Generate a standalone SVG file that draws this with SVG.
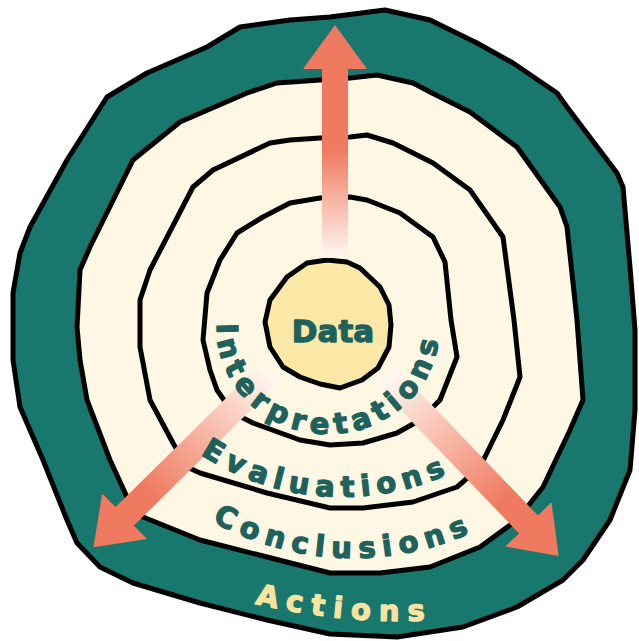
<svg xmlns="http://www.w3.org/2000/svg" width="639" height="641" viewBox="0 0 639 641">
<style>
.ring{stroke:#000;stroke-width:5;stroke-linejoin:round}
.cream{fill:#FEF7E3}
.lbl{font-family:"DejaVu Sans","Liberation Sans",sans-serif;font-weight:bold;font-size:29px;fill:#1E625B;stroke:#1E625B;stroke-width:1.3;stroke-linejoin:round}
.arrow{stroke-width:26;stroke-linecap:butt;fill:none;marker-end:url(#head)}
</style>
<defs>
<marker id="head" markerUnits="userSpaceOnUse" markerWidth="44" markerHeight="64" viewBox="0 0 44 64" refX="1" refY="32" orient="auto">
<path d="M0,0 L44,32 L0,64 Z" fill="#F07A60"/>
</marker>
<linearGradient id="gUp" gradientUnits="userSpaceOnUse" x1="335" y1="258" x2="335" y2="150">
<stop offset="0" stop-color="#FFF8F1"/><stop offset="1" stop-color="#F07A60"/>
</linearGradient>
<linearGradient id="gLeft" gradientUnits="userSpaceOnUse" x1="270" y1="373" x2="150" y2="493">
<stop offset="0" stop-color="#FFF8F1"/><stop offset="1" stop-color="#F07A60"/>
</linearGradient>
<linearGradient id="gRight" gradientUnits="userSpaceOnUse" x1="387" y1="377" x2="505" y2="500">
<stop offset="0" stop-color="#FFF8F1"/><stop offset="1" stop-color="#F07A60"/>
</linearGradient>
<path id="pInt" d="M225.8,288 A111,105 0 1 0 434.1,298.3"/>
<path id="pEval" d="M134.9,391.5 A256,256 0 0 0 526.1,418.8"/>
<path id="pConc" d="M126.1,447.3 A288,288 0 0 0 567,462.7"/>
<path id="pAct" d="M235.8,598.6 A628,628 0 0 0 452.9,618.9"/>
</defs>
<rect width="639" height="641" fill="#FFFFFF"/>
<g id="actions">
<polygon class="ring" fill="#18786D" points="290,20 330,17 385,10 430,20 477,43 513,63 557,93 567,107 617,173 623,187 630,267 635,330 635,410 630,470 610,520 583,560 563,580 517,607 463,627 397,637 330,634 267,620 200,603 133,583 100,567 77,543 67,520 43,460 20,407 13,360 13,293 20,253 30,227 67,160 107,97 147,73 207,47 240,27"/>
</g>
<g id="conclusions">
<polygon class="ring cream" points="180,122 247,93 277,83 320,80 350,78 377,75 413,83 432,93 470,112 517,147 560,207 567,227 577,320 583,400 570,430 543,487 517,520 480,547 430,567 380,573 330,573 267,557 200,540 143,517 127,497 110,460 87,400 80,360 77,327 80,270 90,247 133,160"/>
</g>
<g id="evaluations">
<polygon class="ring cream" points="193,187 213,170 270,143 290,140 320,138 350,137 367,135 393,143 433,163 470,190 503,237 514,320 520,377 503,420 480,467 457,487 413,502 363,508 330,508 267,493 200,473 187,467 173,443 150,400 140,347 140,300 150,270"/>
</g>
<g id="interpretations">
<polygon class="ring cream" points="207,293 220,260 237,233 263,217 290,203 320,198 350,197 367,200 400,213 433,237 445,262 451,320 457,357 440,400 420,420 397,433 363,443 330,445 300,440 253,423 233,413 217,390 210,370 203,340"/>
</g>
<g id="data">
<polygon class="ring" fill="#FBE8A7" points="307,263 327,260 347,262 360,268 380,287 389,305 391,325 389,347 378,368 362,380 340,388 320,384 300,377 283,367 270,347 265,322 270,300 287,277"/>
</g>
<g id="connectors">
<line class="arrow" stroke="url(#gUp)" x1="335" y1="258" x2="335" y2="68"/>
<line class="arrow" stroke="url(#gLeft)" x1="270" y1="373" x2="124" y2="517"/>
<line class="arrow" stroke="url(#gRight)" x1="387" y1="377" x2="529" y2="525"/>
</g>
<g id="labels">
<text id="label-data" class="lbl" x="333" y="342" text-anchor="middle" style="font-size:31px">Data</text>
<text id="label-interpretations" class="lbl" letter-spacing="6" text-anchor="middle"><textPath href="#pInt" startOffset="50%">Interpretations</textPath></text>
<text id="label-evaluations" class="lbl" letter-spacing="6.7" text-anchor="middle"><textPath href="#pEval" startOffset="50%">Evaluations</textPath></text>
<text id="label-conclusions" class="lbl" letter-spacing="7.2" text-anchor="middle"><textPath href="#pConc" startOffset="50%">Conclusions</textPath></text>
<text id="label-actions" class="lbl" letter-spacing="8.4" text-anchor="middle" style="fill:#F8E3A0;stroke:#F8E3A0"><textPath href="#pAct" startOffset="50%">Actions</textPath></text>
</g>
</svg>
